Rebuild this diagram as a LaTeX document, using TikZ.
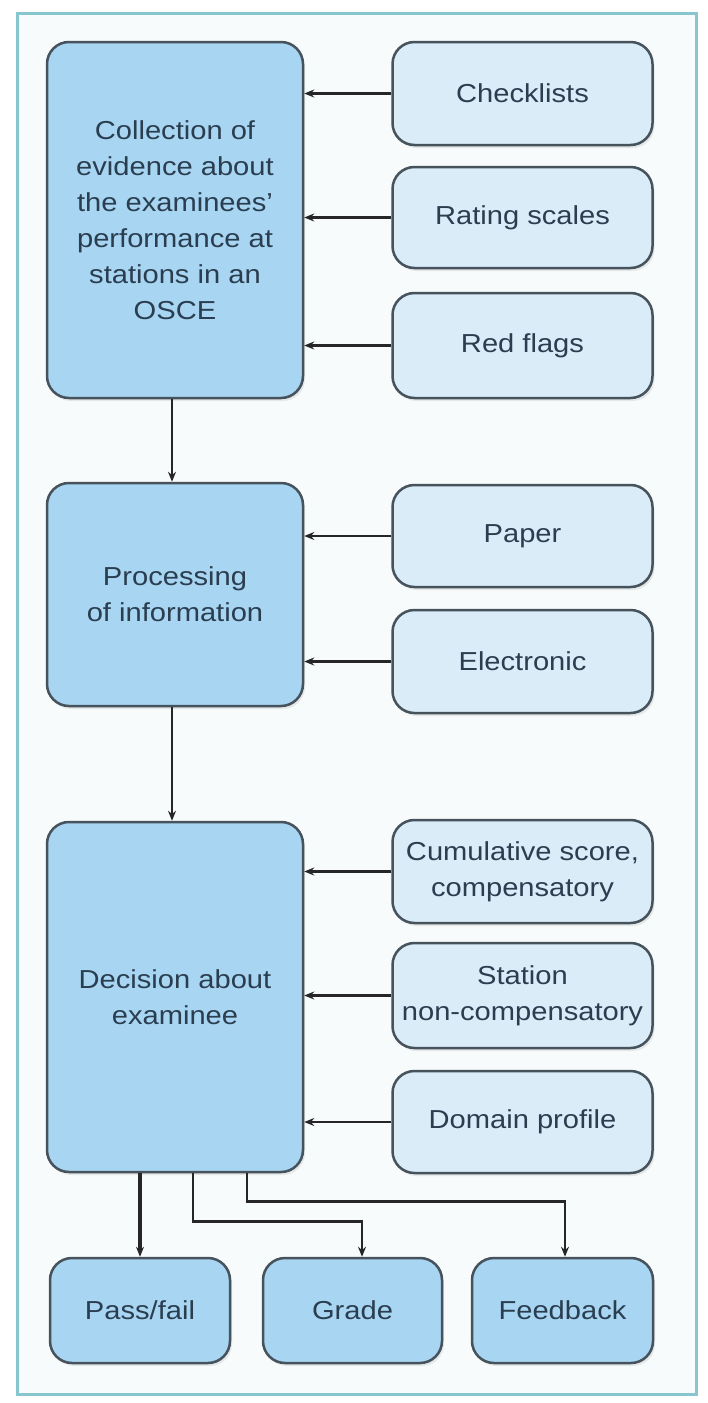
\documentclass[tikz,border=0pt]{standalone}
\usepackage{fontspec}
\setmainfont[FakeStretch=1.12]{Liberation Sans}
\usetikzlibrary{arrows.meta,shadows}

\definecolor{boxblue}{HTML}{A8D5F2}
\definecolor{paleblue}{HTML}{D9ECF8}
\definecolor{edgegray}{HTML}{46525C}
\definecolor{ink}{HTML}{2A3E50}
\definecolor{framecol}{HTML}{86C6CC}

\tikzset{
  box/.style={draw=edgegray, line width=2.5pt, rounded corners=22pt, text=ink,
    align=center, inner sep=0pt, font=\fontsize{26}{36}\selectfont,
    drop shadow={shadow xshift=2pt, shadow yshift=-3pt, opacity=0.15}},
  mainbox/.style={box, fill=boxblue, minimum width=256pt},
  sidebox/.style={box, fill=paleblue, minimum width=260pt},
  outbox/.style={box, fill=boxblue, minimum height=105pt},
  arr/.style={-{Stealth[length=10pt,width=8pt]}, line width=2.5pt, draw=black!85},
}

\begin{document}
\begin{tikzpicture}[x=1pt, y=-1pt]
  \useasboundingbox (0,0) rectangle (708,1403);
  \draw[framecol, line width=3pt, fill=framecol!7] (17,13) rectangle (696,1394);

  % collection of evidence
  \node[mainbox, minimum height=356pt] (coll) at (175,220)
    {Collection of\\evidence about\\the examinees'\\performance at\\stations in an\\OSCE};
  \node[sidebox, minimum height=103pt] (check) at (522.5,93.5) {Checklists};
  \node[sidebox, minimum height=101pt] (rating) at (522.5,217.5) {Rating scales};
  \node[sidebox, minimum height=105pt] (flags) at (522.5,345.5) {Red flags};

  % processing
  \node[mainbox, minimum height=223pt] (proc) at (175,594.5) {Processing\\of information};
  \node[sidebox, minimum height=102pt] (paper) at (522.5,536) {Paper};
  \node[sidebox, minimum height=103pt] (elec) at (522.5,661.5) {Electronic};

  % decision
  \node[mainbox, minimum height=350pt] (dec) at (175,997) {Decision about\\examinee};
  \node[sidebox, minimum height=103pt] (cum) at (522.5,871.5) {Cumulative score,\\compensatory};
  \node[sidebox, minimum height=105pt] (stat) at (522.5,995.5) {Station\\non-compensatory};
  \node[sidebox, minimum height=102pt] (dom) at (522.5,1122) {Domain profile};

  % outcomes
  \node[outbox, minimum width=180pt] (pass) at (140,1310.5) {Pass/fail};
  \node[outbox, minimum width=179pt] (grade) at (352.5,1310.5) {Grade};
  \node[outbox, minimum width=181pt] (fb) at (562.5,1310.5) {Feedback};

  \foreach \s in {check,rating,flags}
    \draw[arr] (\s.west) -- (\s.west -| coll.east);
  \foreach \s in {paper,elec}
    \draw[arr] (\s.west) -- (\s.west -| proc.east);
  \foreach \s in {cum,stat,dom}
    \draw[arr] (\s.west) -- (\s.west -| dec.east);

  \draw[arr, line width=2pt] ([xshift=-3pt]coll.south) -- ([xshift=-3pt]proc.north);
  \draw[arr, line width=2pt] ([xshift=-3pt]proc.south) -- ([xshift=-3pt]dec.north);

  \draw[arr, line width=4.5pt] ([xshift=-35pt]dec.south) -- (pass.north);
  \draw[arr] ([xshift=18pt]dec.south) -- ++(0,48) -| ([xshift=9.5pt]grade.north);
  \draw[arr] ([xshift=72pt]dec.south) -- ++(0,28) -| ([xshift=2.5pt]fb.north);
\end{tikzpicture}
\end{document}
